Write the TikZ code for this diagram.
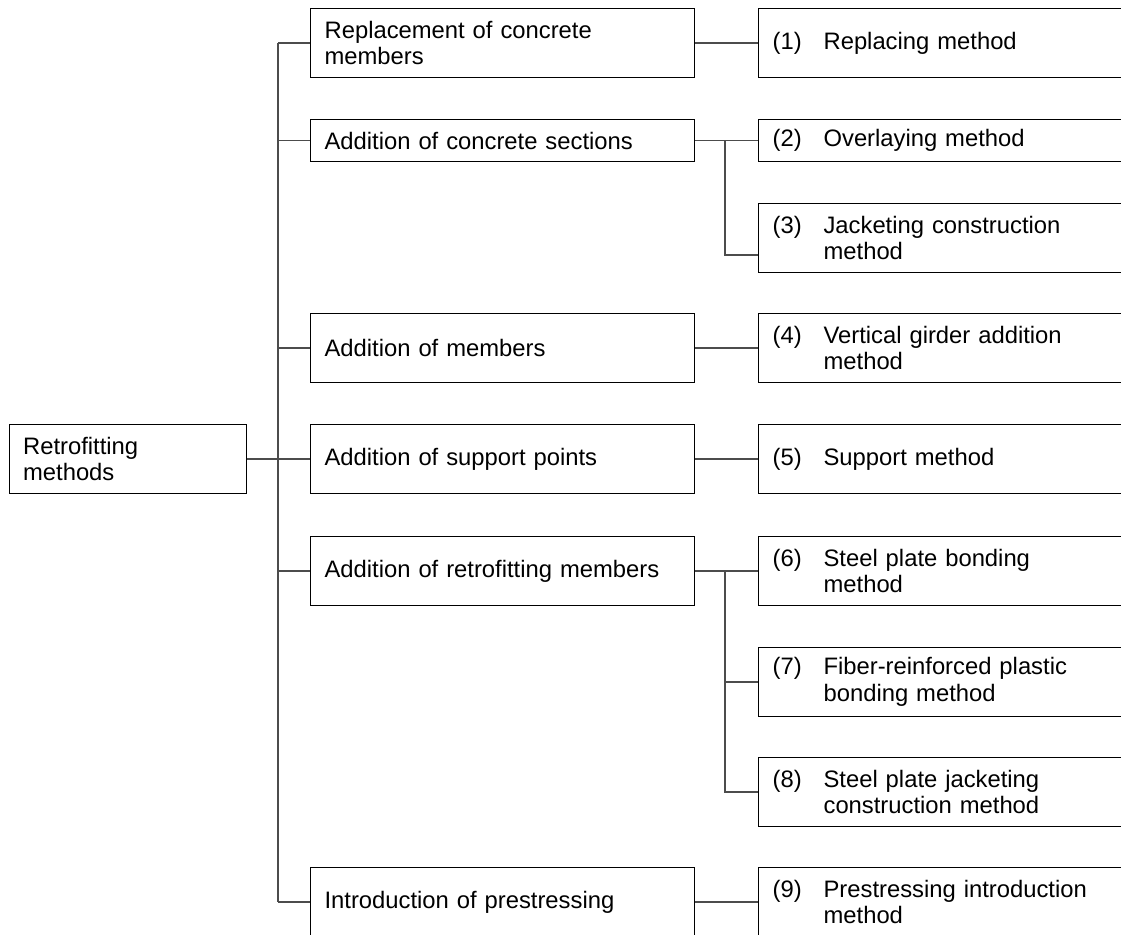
\documentclass[tikz,border=0pt]{standalone}
\usepackage{fontspec}
\setmainfont{Liberation Sans}
\tikzset{>=stealth}
\colorlet{penColor}{black}
\colorlet{lineColor}{black!70}
\newcommand{\meth}[2]{\makebox[25.5pt][l]{#1}\parbox[t]{170pt}{\raggedright #2}}

\begin{document}
\begin{tikzpicture}[x=0.5pt,y=-0.5pt,
	box/.style={draw=penColor, line width=0.6pt, anchor=north west, align=left, inner xsep=7pt, inner ysep=0pt, font=\fontsize{11.9}{13.3}\selectfont},
	grp/.style={box, text width=178pt, minimum height=34.5pt},
	meth/.style={box, text width=260pt, minimum height=34.5pt},
	link/.style={lineColor, line width=0.75pt}]
				\clip (0,0) rectangle (1121,935);
				% root
				\node[box, text width=104.5pt, minimum height=34.5pt] (root) at (8.5,424) {Retrofitting\\methods};
				% groups
				\node[grp] (m1) at (310,8) {Replacement of concrete\\members};
				\node[grp, minimum height=21pt] (m2) at (310,119) {Addition of concrete sections};
				\node[grp] (m3) at (310,313) {Addition of members};
				\node[grp] (m4) at (310,424) {Addition of support points};
				\node[grp] (m5) at (310,536) {Addition of retrofitting members};
				\node[grp] (m6) at (310,867) {Introduction of prestressing};
				% methods
				\node[meth] (r1) at (758,8) {\meth{(1)}{Replacing method}};
				\node[meth, minimum height=21pt] (r2) at (758,119) {\meth{(2)}{Overlaying method}};
				\node[meth] (r3) at (758,203) {\meth{(3)}{Jacketing construction\\method}};
				\node[meth] (r4) at (758,313) {\meth{(4)}{Vertical girder addition\\method}};
				\node[meth] (r5) at (758,424) {\meth{(5)}{Support method}};
				\node[meth] (r6) at (758,536) {\meth{(6)}{Steel plate bonding\\method}};
				\node[meth] (r7) at (758,647) {\meth{(7)}{Fiber-reinforced plastic\\bonding method}};
				\node[meth] (r8) at (758,757) {\meth{(8)}{Steel plate jacketing\\construction method}};
				\node[meth] (r9) at (758,867) {\meth{(9)}{Prestressing introduction\\method}};
				% connectors
				\coordinate (tr) at (278,0);
				\coordinate (st) at (725,0);
				\draw[link] (root.east) -- (m4.west);
				\draw[link] (m1.west -| tr) -- (m6.west -| tr);
				\foreach \m in {m1,m2,m3,m4,m5,m6}
					\draw[link] (\m.west -| tr) -- (\m.west);
				\draw[link] (m1.east) -- (r1.west);
				\draw[link] (m2.east) -- (r2.west);
				\draw[link] (m3.east) -- (r4.west);
				\draw[link] (m4.east) -- (r5.west);
				\draw[link] (m5.east) -- (r6.west);
				\draw[link] (m6.east) -- (r9.west);
				\draw[link] (m2.east -| st) |- ([yshift=-8.5pt]r3.west);
				\draw[link] (m5.east -| st) |- (r8.west);
				\draw[link] (r7.west -| st) -- (r7.west);
\end{tikzpicture}
\end{document}
